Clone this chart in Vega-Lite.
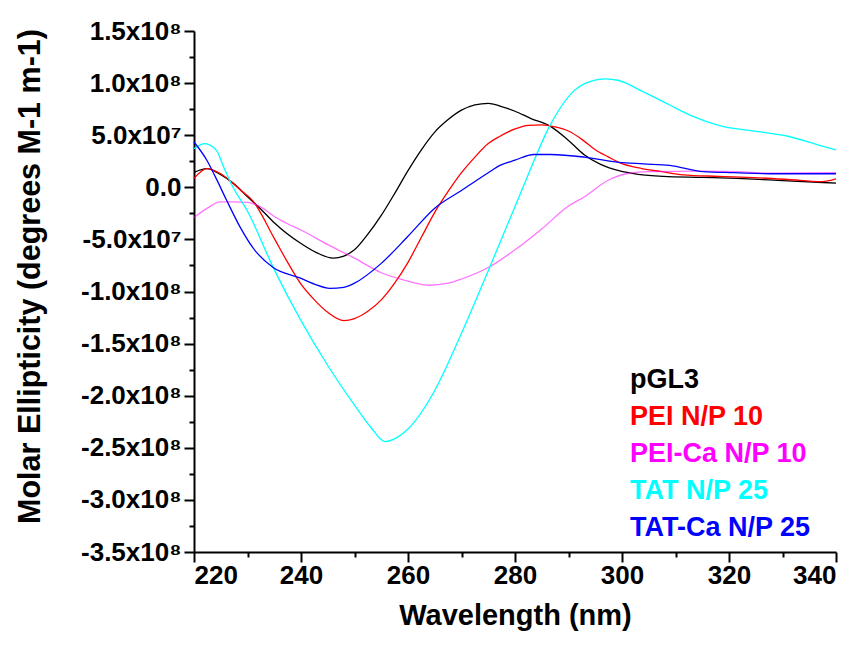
{
  "$schema": "https://vega.github.io/schema/vega-lite/v6.json",
  "width": 642,
  "height": 521,
  "autosize": {"type": "none"},
  "padding": {"left": 194, "top": 31, "right": 28, "bottom": 97},
  "view": {"stroke": null},
  "datasets": {
    "cd": [
      {"s": "pGL3", "wl": 220, "v": 14400000},
      {"s": "pGL3", "wl": 222.4, "v": 18000000},
      {"s": "pGL3", "wl": 225, "v": 12000000},
      {"s": "pGL3", "wl": 227.3, "v": 4000000},
      {"s": "pGL3", "wl": 230, "v": -9000000},
      {"s": "pGL3", "wl": 232.5, "v": -21000000},
      {"s": "pGL3", "wl": 235, "v": -34000000},
      {"s": "pGL3", "wl": 240, "v": -54000000},
      {"s": "pGL3", "wl": 243, "v": -63000000},
      {"s": "pGL3", "wl": 246, "v": -68000000},
      {"s": "pGL3", "wl": 248, "v": -66000000},
      {"s": "pGL3", "wl": 250, "v": -60000000},
      {"s": "pGL3", "wl": 252.5, "v": -45000000},
      {"s": "pGL3", "wl": 255, "v": -27000000},
      {"s": "pGL3", "wl": 257.5, "v": -6000000},
      {"s": "pGL3", "wl": 260, "v": 16000000},
      {"s": "pGL3", "wl": 262.5, "v": 36000000},
      {"s": "pGL3", "wl": 265, "v": 53000000},
      {"s": "pGL3", "wl": 267.5, "v": 65000000},
      {"s": "pGL3", "wl": 270, "v": 74000000},
      {"s": "pGL3", "wl": 272.5, "v": 79000000},
      {"s": "pGL3", "wl": 275, "v": 80600000},
      {"s": "pGL3", "wl": 277.2, "v": 78000000},
      {"s": "pGL3", "wl": 280, "v": 73000000},
      {"s": "pGL3", "wl": 283, "v": 66000000},
      {"s": "pGL3", "wl": 286.5, "v": 59000000},
      {"s": "pGL3", "wl": 290, "v": 45000000},
      {"s": "pGL3", "wl": 293, "v": 31000000},
      {"s": "pGL3", "wl": 296, "v": 22000000},
      {"s": "pGL3", "wl": 299.4, "v": 16000000},
      {"s": "pGL3", "wl": 303, "v": 12500000},
      {"s": "pGL3", "wl": 307.7, "v": 10500000},
      {"s": "pGL3", "wl": 315, "v": 9500000},
      {"s": "pGL3", "wl": 321.5, "v": 8500000},
      {"s": "pGL3", "wl": 330, "v": 6500000},
      {"s": "pGL3", "wl": 340, "v": 4000000},

      {"s": "PEI N/P 10", "wl": 220, "v": 8500000},
      {"s": "PEI N/P 10", "wl": 222.4, "v": 18000000},
      {"s": "PEI N/P 10", "wl": 225, "v": 13000000},
      {"s": "PEI N/P 10", "wl": 227.3, "v": 4000000},
      {"s": "PEI N/P 10", "wl": 229, "v": -4000000},
      {"s": "PEI N/P 10", "wl": 231, "v": -13000000},
      {"s": "PEI N/P 10", "wl": 235, "v": -49000000},
      {"s": "PEI N/P 10", "wl": 237.5, "v": -72000000},
      {"s": "PEI N/P 10", "wl": 240, "v": -93000000},
      {"s": "PEI N/P 10", "wl": 242.5, "v": -108000000},
      {"s": "PEI N/P 10", "wl": 245, "v": -120000000},
      {"s": "PEI N/P 10", "wl": 248, "v": -128000000},
      {"s": "PEI N/P 10", "wl": 250, "v": -126000000},
      {"s": "PEI N/P 10", "wl": 252.5, "v": -119000000},
      {"s": "PEI N/P 10", "wl": 255, "v": -108000000},
      {"s": "PEI N/P 10", "wl": 257.5, "v": -92000000},
      {"s": "PEI N/P 10", "wl": 260, "v": -72000000},
      {"s": "PEI N/P 10", "wl": 262.5, "v": -48000000},
      {"s": "PEI N/P 10", "wl": 265, "v": -24000000},
      {"s": "PEI N/P 10", "wl": 267.5, "v": -4000000},
      {"s": "PEI N/P 10", "wl": 270, "v": 14000000},
      {"s": "PEI N/P 10", "wl": 272.5, "v": 29000000},
      {"s": "PEI N/P 10", "wl": 275, "v": 42000000},
      {"s": "PEI N/P 10", "wl": 277.2, "v": 49000000},
      {"s": "PEI N/P 10", "wl": 280, "v": 56000000},
      {"s": "PEI N/P 10", "wl": 282.5, "v": 59500000},
      {"s": "PEI N/P 10", "wl": 285, "v": 60000000},
      {"s": "PEI N/P 10", "wl": 287.5, "v": 58000000},
      {"s": "PEI N/P 10", "wl": 290, "v": 54000000},
      {"s": "PEI N/P 10", "wl": 292.5, "v": 46000000},
      {"s": "PEI N/P 10", "wl": 295, "v": 36000000},
      {"s": "PEI N/P 10", "wl": 297.5, "v": 29000000},
      {"s": "PEI N/P 10", "wl": 299.4, "v": 24000000},
      {"s": "PEI N/P 10", "wl": 303.7, "v": 18000000},
      {"s": "PEI N/P 10", "wl": 307.5, "v": 15000000},
      {"s": "PEI N/P 10", "wl": 311.4, "v": 12000000},
      {"s": "PEI N/P 10", "wl": 318, "v": 10500000},
      {"s": "PEI N/P 10", "wl": 324.7, "v": 9300000},
      {"s": "PEI N/P 10", "wl": 331, "v": 7500000},
      {"s": "PEI N/P 10", "wl": 337.4, "v": 5400000},
      {"s": "PEI N/P 10", "wl": 340, "v": 8000000},

      {"s": "PEI-Ca N/P 10", "wl": 220, "v": -29000000},
      {"s": "PEI-Ca N/P 10", "wl": 222.5, "v": -20000000},
      {"s": "PEI-Ca N/P 10", "wl": 224.9, "v": -14000000},
      {"s": "PEI-Ca N/P 10", "wl": 227.5, "v": -14000000},
      {"s": "PEI-Ca N/P 10", "wl": 230, "v": -14500000},
      {"s": "PEI-Ca N/P 10", "wl": 232.5, "v": -19000000},
      {"s": "PEI-Ca N/P 10", "wl": 235, "v": -28000000},
      {"s": "PEI-Ca N/P 10", "wl": 237.5, "v": -35000000},
      {"s": "PEI-Ca N/P 10", "wl": 240, "v": -41000000},
      {"s": "PEI-Ca N/P 10", "wl": 245, "v": -55000000},
      {"s": "PEI-Ca N/P 10", "wl": 250, "v": -68000000},
      {"s": "PEI-Ca N/P 10", "wl": 255, "v": -82000000},
      {"s": "PEI-Ca N/P 10", "wl": 260, "v": -90000000},
      {"s": "PEI-Ca N/P 10", "wl": 264, "v": -94000000},
      {"s": "PEI-Ca N/P 10", "wl": 267.5, "v": -92000000},
      {"s": "PEI-Ca N/P 10", "wl": 270, "v": -88000000},
      {"s": "PEI-Ca N/P 10", "wl": 275, "v": -77000000},
      {"s": "PEI-Ca N/P 10", "wl": 280, "v": -60000000},
      {"s": "PEI-Ca N/P 10", "wl": 285, "v": -40000000},
      {"s": "PEI-Ca N/P 10", "wl": 290, "v": -18000000},
      {"s": "PEI-Ca N/P 10", "wl": 293, "v": -9000000},
      {"s": "PEI-Ca N/P 10", "wl": 297.5, "v": 7000000},
      {"s": "PEI-Ca N/P 10", "wl": 301.3, "v": 13500000},
      {"s": "PEI-Ca N/P 10", "wl": 305, "v": 15000000},
      {"s": "PEI-Ca N/P 10", "wl": 315, "v": 15500000},
      {"s": "PEI-Ca N/P 10", "wl": 321.5, "v": 15000000},
      {"s": "PEI-Ca N/P 10", "wl": 328, "v": 13500000},
      {"s": "PEI-Ca N/P 10", "wl": 340, "v": 14000000},

      {"s": "TAT N/P 25", "wl": 220, "v": 37000000},
      {"s": "TAT N/P 25", "wl": 222, "v": 42000000},
      {"s": "TAT N/P 25", "wl": 224.2, "v": 35500000},
      {"s": "TAT N/P 25", "wl": 225.5, "v": 20000000},
      {"s": "TAT N/P 25", "wl": 227.3, "v": 0},
      {"s": "TAT N/P 25", "wl": 230, "v": -23000000},
      {"s": "TAT N/P 25", "wl": 235, "v": -79000000},
      {"s": "TAT N/P 25", "wl": 240, "v": -128000000},
      {"s": "TAT N/P 25", "wl": 245, "v": -171000000},
      {"s": "TAT N/P 25", "wl": 250, "v": -209000000},
      {"s": "TAT N/P 25", "wl": 253, "v": -230000000},
      {"s": "TAT N/P 25", "wl": 255.7, "v": -244000000},
      {"s": "TAT N/P 25", "wl": 258, "v": -240000000},
      {"s": "TAT N/P 25", "wl": 260, "v": -232000000},
      {"s": "TAT N/P 25", "wl": 265, "v": -195000000},
      {"s": "TAT N/P 25", "wl": 270, "v": -140000000},
      {"s": "TAT N/P 25", "wl": 275, "v": -80000000},
      {"s": "TAT N/P 25", "wl": 278.5, "v": -37000000},
      {"s": "TAT N/P 25", "wl": 281.5, "v": 0},
      {"s": "TAT N/P 25", "wl": 286.5, "v": 59000000},
      {"s": "TAT N/P 25", "wl": 291.1, "v": 93000000},
      {"s": "TAT N/P 25", "wl": 294.3, "v": 102000000},
      {"s": "TAT N/P 25", "wl": 296.8, "v": 104000000},
      {"s": "TAT N/P 25", "wl": 299.4, "v": 102500000},
      {"s": "TAT N/P 25", "wl": 303.8, "v": 92000000},
      {"s": "TAT N/P 25", "wl": 308.9, "v": 79000000},
      {"s": "TAT N/P 25", "wl": 312.8, "v": 69000000},
      {"s": "TAT N/P 25", "wl": 318.4, "v": 59000000},
      {"s": "TAT N/P 25", "wl": 324.7, "v": 54000000},
      {"s": "TAT N/P 25", "wl": 331, "v": 49000000},
      {"s": "TAT N/P 25", "wl": 337.4, "v": 39500000},
      {"s": "TAT N/P 25", "wl": 340, "v": 36000000},

      {"s": "TAT-Ca N/P 25", "wl": 220, "v": 43500000},
      {"s": "TAT-Ca N/P 25", "wl": 222.4, "v": 26000000},
      {"s": "TAT-Ca N/P 25", "wl": 224, "v": 10000000},
      {"s": "TAT-Ca N/P 25", "wl": 226.1, "v": -12500000},
      {"s": "TAT-Ca N/P 25", "wl": 228.6, "v": -38000000},
      {"s": "TAT-Ca N/P 25", "wl": 231, "v": -58000000},
      {"s": "TAT-Ca N/P 25", "wl": 234.8, "v": -77000000},
      {"s": "TAT-Ca N/P 25", "wl": 239.8, "v": -87000000},
      {"s": "TAT-Ca N/P 25", "wl": 242.5, "v": -93000000},
      {"s": "TAT-Ca N/P 25", "wl": 245.4, "v": -97000000},
      {"s": "TAT-Ca N/P 25", "wl": 248, "v": -96000000},
      {"s": "TAT-Ca N/P 25", "wl": 250, "v": -92000000},
      {"s": "TAT-Ca N/P 25", "wl": 255, "v": -73000000},
      {"s": "TAT-Ca N/P 25", "wl": 260, "v": -47000000},
      {"s": "TAT-Ca N/P 25", "wl": 265, "v": -20000000},
      {"s": "TAT-Ca N/P 25", "wl": 270, "v": -3000000},
      {"s": "TAT-Ca N/P 25", "wl": 275, "v": 14000000},
      {"s": "TAT-Ca N/P 25", "wl": 277.2, "v": 21000000},
      {"s": "TAT-Ca N/P 25", "wl": 280, "v": 26000000},
      {"s": "TAT-Ca N/P 25", "wl": 283.5, "v": 31500000},
      {"s": "TAT-Ca N/P 25", "wl": 286.7, "v": 31500000},
      {"s": "TAT-Ca N/P 25", "wl": 293, "v": 29000000},
      {"s": "TAT-Ca N/P 25", "wl": 299.4, "v": 24000000},
      {"s": "TAT-Ca N/P 25", "wl": 304, "v": 22500000},
      {"s": "TAT-Ca N/P 25", "wl": 308.9, "v": 21000000},
      {"s": "TAT-Ca N/P 25", "wl": 315.2, "v": 15000000},
      {"s": "TAT-Ca N/P 25", "wl": 321, "v": 14000000},
      {"s": "TAT-Ca N/P 25", "wl": 327.9, "v": 13000000},
      {"s": "TAT-Ca N/P 25", "wl": 340, "v": 13000000}
    ]
  },
  "data": {"name": "cd"},
  "layer": [
    {
      "mark": {"type": "line", "interpolate": "monotone", "strokeWidth": 1.3},
      "encoding": {
        "x": {
          "field": "wl",
          "type": "quantitative",
          "scale": {"domain": [220, 340], "nice": false, "zero": false},
          "axis": {
            "orient": "bottom",
            "title": "Wavelength (nm)",
            "values": [220, 240, 260, 280, 300, 320, 340],
            "grid": false,
            "ticks": true,
            "domainColor": "black",
            "domainWidth": 2,
            "tickColor": "black",
            "tickWidth": 2,
            "tickSize": 10,
            "labelFont": "Liberation Sans",
            "labelFontWeight": "bold",
            "labelFontSize": 26,
            "labelColor": "black",
            "labelPadding": 0,
            "titleFont": "Liberation Sans",
            "titleFontWeight": "bold",
            "titleFontSize": 29,
            "titleColor": "black",
            "titleX": 321,
            "titleY": 72,
            "titleBaseline": "alphabetic"
          }
        },
        "y": {
          "field": "v",
          "type": "quantitative",
          "scale": {"domain": [-350000000, 150000000], "nice": false, "zero": false},
          "axis": {
            "orient": "left",
            "title": "Molar Ellipticity (degrees M-1 m-1)",
            "values": [-350000000, -300000000, -250000000, -200000000, -150000000, -100000000, -50000000, 0, 50000000, 100000000, 150000000],
            "labelExpr": "datum.value === 0 ? '0.0' : (datum.value < 0 ? '-' : '') + (abs(datum.value) >= 99999999 ? format(abs(datum.value) / 100000000, '.1f') + 'x10⁸' : format(abs(datum.value) / 10000000, '.1f') + 'x10⁷')",
            "grid": false,
            "ticks": true,
            "domainColor": "black",
            "domainWidth": 2,
            "tickColor": "black",
            "tickWidth": 2,
            "tickSize": 10,
            "labelFont": "Liberation Sans",
            "labelFontWeight": "bold",
            "labelFontSize": 26,
            "labelColor": "black",
            "labelPadding": 3,
            "titleFont": "Liberation Sans",
            "titleFontWeight": "bold",
            "titleFontSize": 30.5,
            "titleColor": "black",
            "titleX": -164,
            "titleY": 245,
            "titleBaseline": "middle"
          }
        },
        "color": {
          "field": "s",
          "type": "nominal",
          "scale": {
            "domain": ["pGL3", "PEI N/P 10", "PEI-Ca N/P 10", "TAT N/P 25", "TAT-Ca N/P 25"],
            "range": ["#000000", "#ff0000", "#ff00ff", "#00ffff", "#0000ff"]
          },
          "legend": {
            "title": null,
            "orient": "none",
            "legendX": 409,
            "legendY": 335,
            "padding": 0,
            "symbolSize": 0,
            "symbolStrokeWidth": 0,
            "symbolOpacity": 0,
            "labelOffset": 0,
            "labelFont": "Liberation Sans",
            "labelFontWeight": "bold",
            "labelFontSize": 27,
            "labelLimit": 400,
            "rowPadding": 9,
            "encode": {"labels": {"update": {"fill": {"signal": "scale('color', datum.value)"}}}}
          }
        },
        "opacity": {
          "condition": {"test": "datum.s === 'PEI-Ca N/P 10'", "value": 0.55},
          "value": 1
        }
      }
    },
    {
      "mark": {"type": "line", "opacity": 0},
      "encoding": {
        "x": {
          "field": "wl",
          "type": "quantitative",
          "scale": {"domain": [220, 340], "nice": false, "zero": false},
          "axis": {
            "orient": "bottom",
            "title": null,
            "values": [230, 250, 270, 290, 310, 330],
            "labels": false,
            "domain": false,
            "grid": false,
            "ticks": true,
            "tickColor": "black",
            "tickWidth": 2,
            "tickSize": 5
          }
        },
        "y": {
          "field": "v",
          "type": "quantitative",
          "scale": {"domain": [-350000000, 150000000], "nice": false, "zero": false},
          "axis": {
            "orient": "left",
            "title": null,
            "values": [-325000000, -275000000, -225000000, -175000000, -125000000, -75000000, -25000000, 25000000, 75000000, 125000000],
            "labels": false,
            "domain": false,
            "grid": false,
            "ticks": true,
            "tickColor": "black",
            "tickWidth": 2,
            "tickSize": 5
          }
        },
        "detail": {"field": "s", "type": "nominal"}
      }
    }
  ],
  "resolve": {"axis": {"x": "independent", "y": "independent"}}
}
